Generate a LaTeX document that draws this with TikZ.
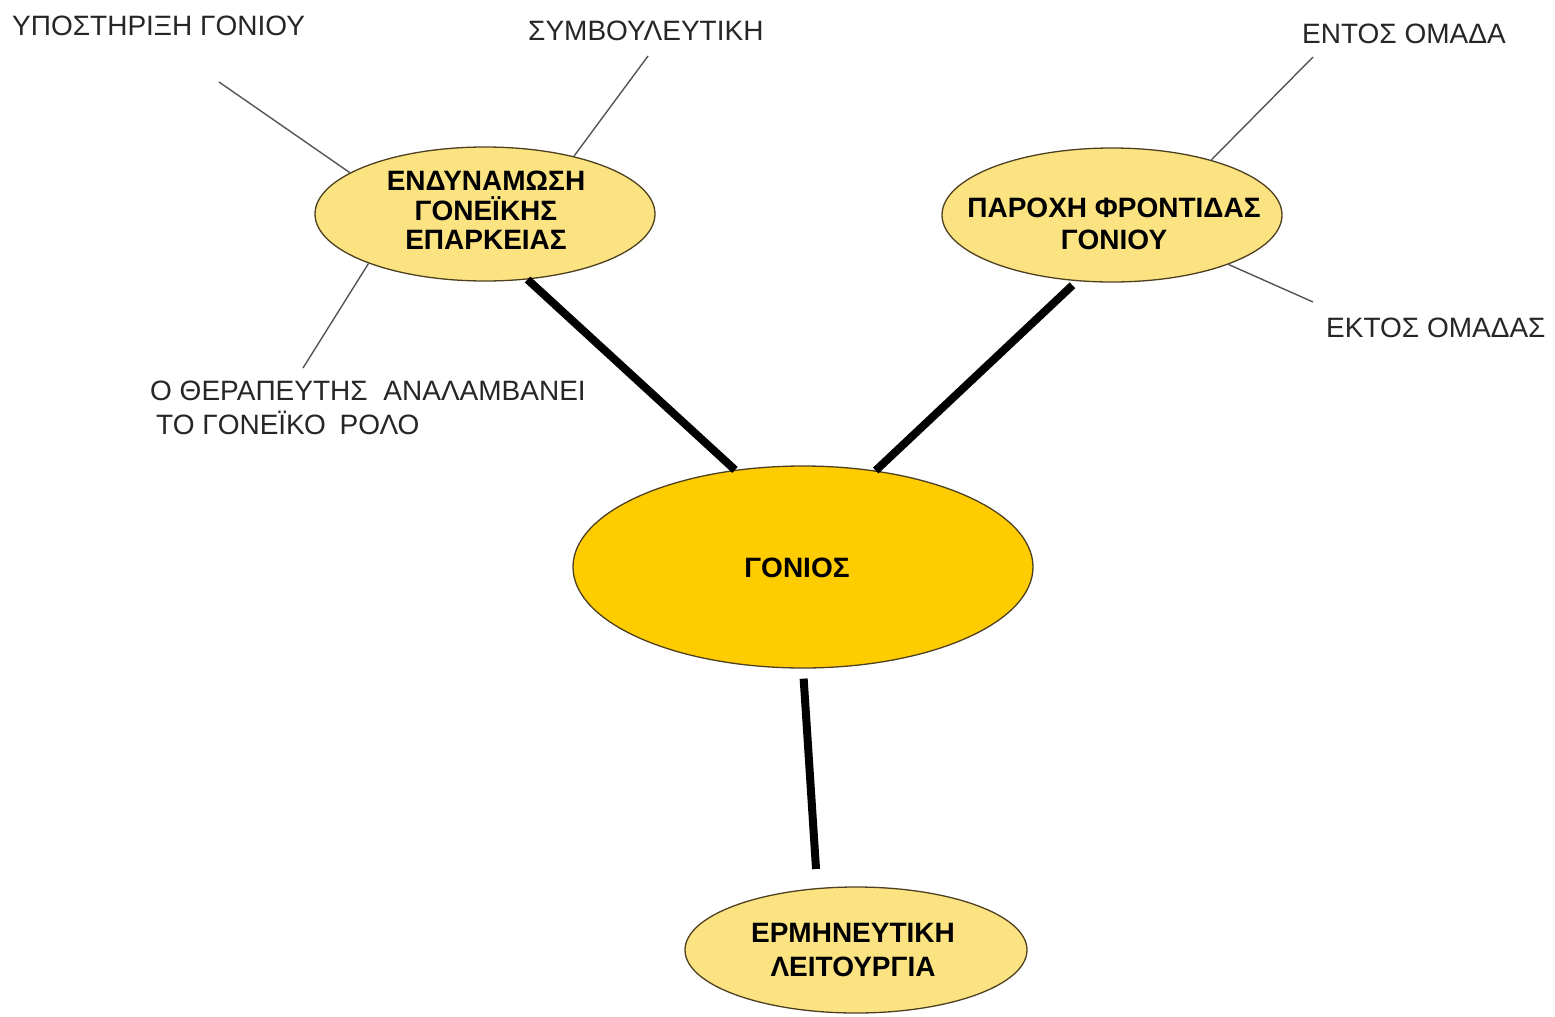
\documentclass[tikz,border=0pt]{standalone}
\usepackage{fontspec}
\setmainfont{Liberation Sans}
\usetikzlibrary{shapes.geometric,calc}
\definecolor{paleyellow}{HTML}{FCE382}
\definecolor{gold}{HTML}{FFCC00}
\definecolor{rim}{HTML}{4D4020}
\definecolor{leadgray}{HTML}{555555}
\begin{document}
\begin{tikzpicture}[x=1pt,y=-1pt,
  bubble/.style={ellipse, draw=rim, line width=1.3pt, fill=paleyellow, inner sep=0pt},
  title/.style={font=\fontsize{28}{31}\selectfont\bfseries, align=center, inner sep=0pt},
  note/.style={font=\fontsize{28}{34}\selectfont, inner sep=0pt, anchor=base west, text=black!85, align=left},
  stem/.style={line width=8pt, black},
  leader/.style={line width=1.4pt, leadgray}]
\useasboundingbox (0,0) rectangle (1555,1017);

% ellipses
\node[bubble, minimum width=340pt, minimum height=134pt] (e1) at (485,214) {};
\node[bubble, minimum width=340pt, minimum height=134pt] (e2) at (1112,215) {};
\node[bubble, fill=gold, minimum width=460pt, minimum height=202pt] (g) at (803,567) {};
\node[bubble, minimum width=342pt, minimum height=126pt] (e3) at (856,950) {};

% ellipse captions
\node[title, font=\fontsize{28}{29.5}\selectfont\bfseries] (e1t) at (486,210.5) {ΕΝΔΥΝΑΜΩΣΗ\\ΓΟΝΕΪΚΗΣ\\ΕΠΑΡΚΕΙΑΣ};
\node[title, font=\fontsize{28}{32}\selectfont\bfseries] (e2t) at (1114,224) {ΠΑΡΟΧΗ ΦΡΟΝΤΙΔΑΣ\\ΓΟΝΙΟΥ};
\node[title] (gt) at (797,568) {ΓΟΝΙΟΣ};
\node[title, font=\fontsize{28}{34}\selectfont\bfseries] (e3t) at (853,950) {ΕΡΜΗΝΕΥΤΙΚΗ\\ΛΕΙΤΟΥΡΓΙΑ};

% thick stems
\draw[stem] (e1.-57) -- (g.125);
\draw[stem, shorten <=6pt] (e2.-118) -- (g.53);
\draw[stem, shorten <=10pt, shorten >=19pt] (g.south) -- (e3.122);

% side notes (base anchor of a two-line note is its last line)
\node[note] (n1) at (12,35) {ΥΠΟΣΤΗΡΙΞΗ ΓΟΝΙΟΥ};
\node[note] (n2) at (528,40) {ΣΥΜΒΟΥΛΕΥΤΙΚΗ};
\node[note] (n3) at (150,434) {Ο ΘΕΡΑΠΕΥΤΗΣ\hspace{8pt} ΑΝΑΛΑΜΒΑΝΕΙ\\\hspace{6pt}ΤΟ ΓΟΝΕΪΚΟ\hspace{6pt} ΡΟΛΟ};
\node[note] (n4) at (1302,43) {ΕΝΤΟΣ ΟΜΑΔΑ};
\node[note] (n5) at (1326,337) {ΕΚΤΟΣ ΟΜΑΔΑΣ};

% leader lines
\coordinate (c1) at (219,82);
\coordinate (c2) at (648,56);
\coordinate (c3) at (303,368);
\coordinate (c4) at (1313,57);
\coordinate (c5) at (1313,302);
\draw[leader] (c1) -- (e1.163);
\draw[leader] (c2) -- (e1.33);
\draw[leader] (c3) -- (e1.203);
\draw[leader] (c4) -- (e2.29);
\draw[leader] (c5) -- (e2.-23);
\end{tikzpicture}
\end{document}
